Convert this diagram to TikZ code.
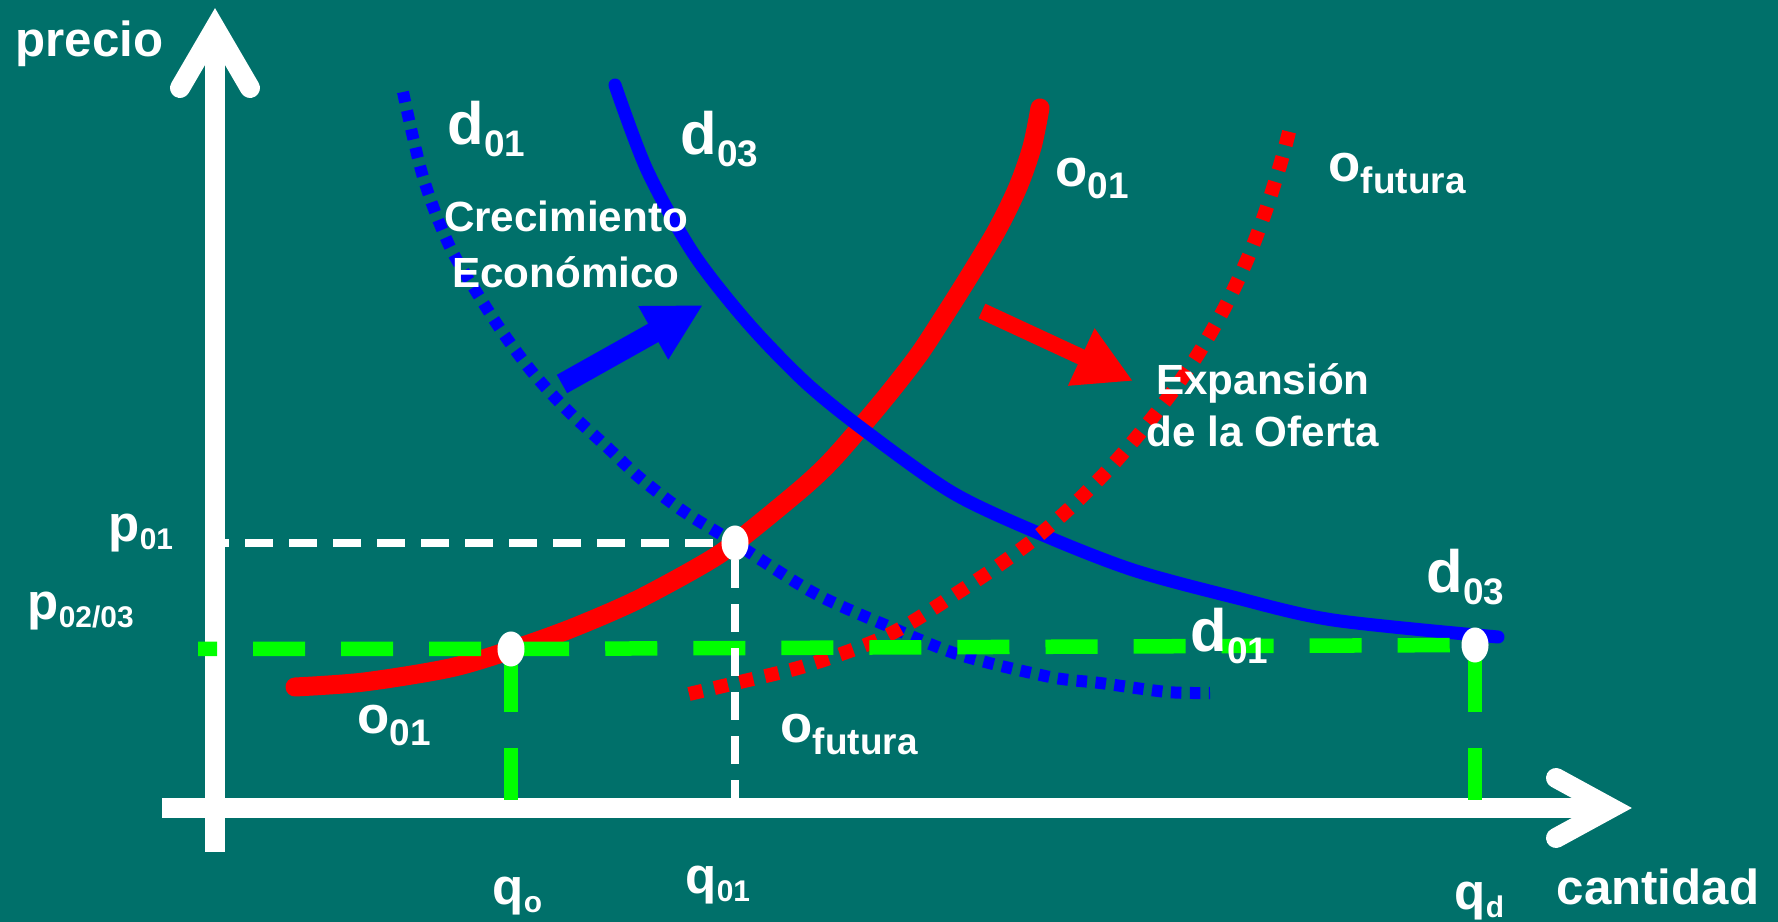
\documentclass[tikz,border=0pt]{standalone}
\usepackage{fontspec}
\setmainfont{Liberation Sans}
\usetikzlibrary{arrows.meta,shapes.geometric}

\definecolor{slidebg}{RGB}{0,112,106}
\definecolor{supplyred}{RGB}{255,0,0}
\definecolor{demandblue}{RGB}{0,0,255}
\definecolor{levelgreen}{RGB}{0,255,0}

\pgfdeclarelayer{bg}
\pgfsetlayers{bg,main}

\newcommand{\curvelbl}[3][17]{{\fontsize{#1}{#1}\selectfont #2}\raisebox{-3.2pt}{\fontsize{10.5}{10.5}\selectfont #3}}
\newcommand{\axislbl}[2]{{\fontsize{14.5}{14.5}\selectfont #1}\raisebox{-2.2pt}{\fontsize{8.5}{8.5}\selectfont #2}}

\begin{document}
\begin{tikzpicture}[x=0.01cm,y=-0.01cm]
        \tikzstyle{every node}=[inner sep=0pt,text=white,font=\bfseries]
        \tikzstyle{lbl}=[anchor=base west]
        \tikzstyle{axisline}=[draw=white,line width=0.2cm]
        \tikzstyle{chevron}=[draw=white,line width=0.2cm,line cap=round,line join=miter]
        \tikzstyle{supplynow}=[draw=supplyred,line width=0.19cm,line cap=round]
        \tikzstyle{supplyfut}=[draw=supplyred,line width=0.14cm,dash pattern=on 0.14cm off 0.12cm]
        \tikzstyle{demandnew}=[draw=demandblue,line width=0.13cm,line cap=round]
        \tikzstyle{demandold}=[draw=demandblue,line width=0.12cm,dash pattern=on 0.105cm off 0.085cm]
        \tikzstyle{greenref}=[draw=levelgreen,line width=0.145cm,dash pattern=on 0.52cm off 0.36cm]
        \tikzstyle{whiteref}=[draw=white,line width=0.075cm,dash pattern=on 0.28cm off 0.16cm]
        \tikzstyle{eqpt}=[ellipse,fill=white,minimum width=0.27cm,minimum height=0.35cm]

        \begin{pgfonlayer}{bg}
            \fill[slidebg] (0,0) rectangle (1778,922);
        \end{pgfonlayer}
        \useasboundingbox (0,0) rectangle (1778,922);

        % axes
        \coordinate (O) at (215,808);
        \coordinate (ytop) at (215,28);
        \coordinate (ybot) at (215,852);
        \coordinate (xleft) at (162,808);
        \coordinate (xtip) at (1611,808);
        \coordinate (xb) at (215,800);
        \draw[axisline] (ybot) -- (ytop);
        \draw[chevron] (180,88) -- (ytop) -- (250,88);
        \draw[axisline] (xleft) -- (xtip);
        \draw[chevron] (1556,778) -- (xtip) -- (1556,838);

        % demand d01 (dotted)
        \draw[demandold] plot[smooth] coordinates {(403,92) (412,133) (423,177) (437,217) (453,253) (477,293) (503,333) (533,373) (567,410) (607,447) (640,478) (683,511) (735,543) (814,593) (890,627) (960,655) (1050,677) (1100,683) (1167,692) (1210,693)};

        % supply o01
        \draw[supplynow] plot[smooth] coordinates {(295,687) (364,682) (450,668) (511,650) (570,629) (635,601) (700,566) (735,543) (800,490) (830,462) (860,428) (890,392) (920,353) (948,310) (970,275) (997,230) (1018,187) (1032,147) (1040,108)};

        % demand d03
        \draw[demandnew] plot[smooth] coordinates {(615,85) (647,170) (693,253) (747,322) (805,382) (864,430) (953,493) (1043,535) (1133,570) (1233,597) (1333,620) (1498,637)};

        % future supply (dotted)
        \draw[supplyfut] plot[smooth] coordinates {(689,694) (740,682) (798,668) (844,653) (880,639) (912,622) (951,597) (992,570) (1033,540) (1070,508) (1107,471) (1140,433) (1173,391) (1200,351) (1225,307) (1247,260) (1265,213) (1281,162) (1290,128)};

        % equilibrium points
        \coordinate (c0) at (511,649);
        \coordinate (c1) at (735,543);
        \coordinate (cd) at (1475,645);
        \coordinate (gstart) at (198,649);

        % reference lines
        \draw[greenref,dash phase=0.33cm] (gstart) -- (c0) -- (cd);
        \draw[greenref] (c0 |- xb) -- (c0);
        \draw[greenref] (cd |- xb) -- (cd);
        \draw[whiteref,dash phase=0.14cm] (c1 -| O) -- (c1);
        \draw[whiteref] (c1 |- O) -- (c1);
        \node[eqpt] (eq0) at (c0) {};
        \node[eqpt] (eq1) at (c1) {};
        \node[eqpt] (eqd) at (cd) {};

        % shift arrows
        \coordinate (grow0) at (562,384);
        \coordinate (grow1) at (703,305);
        \draw[demandblue,line width=0.21cm,-{Triangle[length=0.57cm,width=0.57cm]}] (grow0) -- (grow1);
        \coordinate (expand0) at (982,311);
        \coordinate (expand1) at (1133,381);
        \draw[supplyred,line width=0.16cm,-{Triangle[length=0.57cm,width=0.59cm]}] (expand0) -- (expand1);

        % labels
        \node[lbl] (precio) at (15,57) {\fontsize{14}{14}\selectfont precio};
        \node[lbl] (cantidad) at (1556,905) {\fontsize{14}{14}\selectfont cantidad};
        \node[lbl] (d01top) at (447,145) {\curvelbl{d}{01}};
        \node[lbl] (d03top) at (680,155) {\curvelbl{d}{03}};
        \node[lbl] (o01top) at (1055,187) {\curvelbl[15]{o}{01}};
        \node[lbl] (ofuttop) at (1328,182) {\curvelbl[15]{o}{futura}};
        \node[lbl] (d03end) at (1426,593) {\curvelbl{d}{03}};
        \node[lbl] (d01end) at (1190,652) {\curvelbl{d}{01}};
        \node[lbl] (o01low) at (357,734) {\curvelbl[15]{o}{01}};
        \node[lbl] (ofutlow) at (780,743) {\curvelbl[15]{o}{futura}};
        \node[lbl] (p01) at (108,542) {\axislbl{p}{01}};
        \node[lbl] (p0203) at (27,620) {\axislbl{p}{02/03}};
        \node[lbl] (qo) at (492,905) {\axislbl{q}{o}};
        \node[lbl] (q01) at (685,894) {\axislbl{q}{01}};
        \node[lbl] (qd) at (1454,910) {\axislbl{q}{d}};
        \node[anchor=south,align=center,font=\bfseries\fontsize{12}{16}\selectfont] (growth) at (566,289) {Crecimiento\\Económico};
        \node[anchor=south,align=center,font=\bfseries\fontsize{12}{15}\selectfont] (expansion) at (1263,448) {Expansión\\de la Oferta};
\end{tikzpicture}
\end{document}
